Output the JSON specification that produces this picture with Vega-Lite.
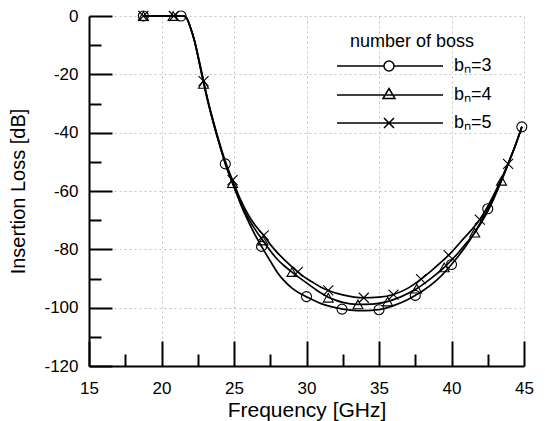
{
  "$schema": "https://vega.github.io/schema/vega-lite/v6.json",
  "width": 435,
  "height": 350,
  "autosize": {"type": "none"},
  "padding": {"left": 89, "top": 16, "right": 21, "bottom": 55},
  "background": "white",
  "config": {
    "view": {"stroke": null},
    "font": "Liberation Sans",
    "axis": {
      "domainColor": "black",
      "domainWidth": 2,
      "tickColor": "black",
      "tickWidth": 2,
      "labelColor": "black",
      "titleColor": "black",
      "labelFont": "Liberation Sans",
      "titleFont": "Liberation Sans",
      "titleFontWeight": "normal",
      "gridColor": "#aaaaaa",
      "gridDash": [2, 3],
      "gridWidth": 1
    }
  },
  "datasets": {
    "curves": [
      {"series": "bₙ=3", "f": 18.75, "il": 0},
      {"series": "bₙ=3", "f": 20.5, "il": 0},
      {"series": "bₙ=3", "f": 21.35, "il": 0},
      {"series": "bₙ=3", "f": 21.7, "il": -0.5},
      {"series": "bₙ=3", "f": 22.0, "il": -4},
      {"series": "bₙ=3", "f": 22.3, "il": -9},
      {"series": "bₙ=3", "f": 22.6, "il": -15.5},
      {"series": "bₙ=3", "f": 22.9, "il": -22.5},
      {"series": "bₙ=3", "f": 23.2, "il": -29},
      {"series": "bₙ=3", "f": 23.6, "il": -37},
      {"series": "bₙ=3", "f": 24.0, "il": -44},
      {"series": "bₙ=3", "f": 24.4, "il": -50.7},
      {"series": "bₙ=3", "f": 25.0, "il": -58.5},
      {"series": "bₙ=3", "f": 25.5, "il": -65},
      {"series": "bₙ=3", "f": 26.0, "il": -70.5},
      {"series": "bₙ=3", "f": 26.5, "il": -75.5},
      {"series": "bₙ=3", "f": 26.9, "il": -79},
      {"series": "bₙ=3", "f": 27.5, "il": -84},
      {"series": "bₙ=3", "f": 28.0, "il": -88},
      {"series": "bₙ=3", "f": 28.5, "il": -91},
      {"series": "bₙ=3", "f": 29.0, "il": -93.3},
      {"series": "bₙ=3", "f": 29.5, "il": -95},
      {"series": "bₙ=3", "f": 30.0, "il": -96.3},
      {"series": "bₙ=3", "f": 31.0, "il": -98.6},
      {"series": "bₙ=3", "f": 32.0, "il": -100},
      {"series": "bₙ=3", "f": 32.5, "il": -100.5},
      {"series": "bₙ=3", "f": 33.5, "il": -101},
      {"series": "bₙ=3", "f": 34.5, "il": -100.9},
      {"series": "bₙ=3", "f": 35.0, "il": -100.7},
      {"series": "bₙ=3", "f": 36.0, "il": -99.3},
      {"series": "bₙ=3", "f": 37.0, "il": -97.2},
      {"series": "bₙ=3", "f": 37.5, "il": -95.8},
      {"series": "bₙ=3", "f": 38.0, "il": -94.3},
      {"series": "bₙ=3", "f": 39.0, "il": -90.5},
      {"series": "bₙ=3", "f": 40.0, "il": -85.2},
      {"series": "bₙ=3", "f": 41.0, "il": -78.8},
      {"series": "bₙ=3", "f": 41.5, "il": -75},
      {"series": "bₙ=3", "f": 42.0, "il": -70.8},
      {"series": "bₙ=3", "f": 42.5, "il": -66.1},
      {"series": "bₙ=3", "f": 43.0, "il": -61},
      {"series": "bₙ=3", "f": 43.5, "il": -55.5},
      {"series": "bₙ=3", "f": 44.0, "il": -49.5},
      {"series": "bₙ=3", "f": 44.5, "il": -43},
      {"series": "bₙ=3", "f": 44.85, "il": -38},

      {"series": "bₙ=4", "f": 18.75, "il": 0},
      {"series": "bₙ=4", "f": 20.8, "il": 0},
      {"series": "bₙ=4", "f": 21.6, "il": 0},
      {"series": "bₙ=4", "f": 22.0, "il": -4},
      {"series": "bₙ=4", "f": 22.3, "il": -9},
      {"series": "bₙ=4", "f": 22.6, "il": -16},
      {"series": "bₙ=4", "f": 22.9, "il": -23},
      {"series": "bₙ=4", "f": 23.2, "il": -29.5},
      {"series": "bₙ=4", "f": 23.6, "il": -37},
      {"series": "bₙ=4", "f": 24.0, "il": -44},
      {"series": "bₙ=4", "f": 24.4, "il": -50.5},
      {"series": "bₙ=4", "f": 24.9, "il": -57.3},
      {"series": "bₙ=4", "f": 25.5, "il": -64.5},
      {"series": "bₙ=4", "f": 26.0, "il": -69.5},
      {"series": "bₙ=4", "f": 26.5, "il": -73.5},
      {"series": "bₙ=4", "f": 27.0, "il": -77},
      {"series": "bₙ=4", "f": 27.5, "il": -80.5},
      {"series": "bₙ=4", "f": 28.0, "il": -83.5},
      {"series": "bₙ=4", "f": 28.5, "il": -85.8},
      {"series": "bₙ=4", "f": 29.0, "il": -87.8},
      {"series": "bₙ=4", "f": 29.5, "il": -89.7},
      {"series": "bₙ=4", "f": 30.0, "il": -91.5},
      {"series": "bₙ=4", "f": 30.5, "il": -93.3},
      {"series": "bₙ=4", "f": 31.0, "il": -95},
      {"series": "bₙ=4", "f": 31.5, "il": -96.4},
      {"series": "bₙ=4", "f": 32.0, "il": -97.4},
      {"series": "bₙ=4", "f": 32.5, "il": -98.2},
      {"series": "bₙ=4", "f": 33.5, "il": -98.9},
      {"series": "bₙ=4", "f": 34.5, "il": -98.8},
      {"series": "bₙ=4", "f": 35.5, "il": -98},
      {"series": "bₙ=4", "f": 36.5, "il": -96.3},
      {"series": "bₙ=4", "f": 37.5, "il": -93.8},
      {"series": "bₙ=4", "f": 38.5, "il": -90.3},
      {"series": "bₙ=4", "f": 39.5, "il": -86.2},
      {"series": "bₙ=4", "f": 40.5, "il": -81},
      {"series": "bₙ=4", "f": 41.0, "il": -78},
      {"series": "bₙ=4", "f": 41.6, "il": -74.3},
      {"series": "bₙ=4", "f": 42.5, "il": -67},
      {"series": "bₙ=4", "f": 43.45, "il": -56.5},
      {"series": "bₙ=4", "f": 44.0, "il": -49.5},
      {"series": "bₙ=4", "f": 44.5, "il": -43},
      {"series": "bₙ=4", "f": 44.85, "il": -38},

      {"series": "bₙ=5", "f": 18.75, "il": 0},
      {"series": "bₙ=5", "f": 20.85, "il": 0},
      {"series": "bₙ=5", "f": 21.6, "il": 0},
      {"series": "bₙ=5", "f": 22.0, "il": -4},
      {"series": "bₙ=5", "f": 22.3, "il": -9},
      {"series": "bₙ=5", "f": 22.6, "il": -15.5},
      {"series": "bₙ=5", "f": 22.9, "il": -22.3},
      {"series": "bₙ=5", "f": 23.2, "il": -29},
      {"series": "bₙ=5", "f": 23.6, "il": -36.5},
      {"series": "bₙ=5", "f": 24.0, "il": -43.5},
      {"series": "bₙ=5", "f": 24.4, "il": -49.8},
      {"series": "bₙ=5", "f": 24.9, "il": -56.3},
      {"series": "bₙ=5", "f": 25.5, "il": -63.5},
      {"series": "bₙ=5", "f": 26.0, "il": -68.3},
      {"series": "bₙ=5", "f": 26.5, "il": -72},
      {"series": "bₙ=5", "f": 27.05, "il": -75.2},
      {"series": "bₙ=5", "f": 27.5, "il": -78.3},
      {"series": "bₙ=5", "f": 28.0, "il": -81.2},
      {"series": "bₙ=5", "f": 28.5, "il": -83.7},
      {"series": "bₙ=5", "f": 29.0, "il": -86},
      {"series": "bₙ=5", "f": 29.4, "il": -87.7},
      {"series": "bₙ=5", "f": 30.0, "il": -90},
      {"series": "bₙ=5", "f": 30.5, "il": -91.5},
      {"series": "bₙ=5", "f": 31.0, "il": -93},
      {"series": "bₙ=5", "f": 31.5, "il": -94.1},
      {"series": "bₙ=5", "f": 32.5, "il": -95.6},
      {"series": "bₙ=5", "f": 33.95, "il": -96.6},
      {"series": "bₙ=5", "f": 35.0, "il": -96.4},
      {"series": "bₙ=5", "f": 36.0, "il": -95.5},
      {"series": "bₙ=5", "f": 37.0, "il": -93.3},
      {"series": "bₙ=5", "f": 37.9, "il": -90.2},
      {"series": "bₙ=5", "f": 38.8, "il": -86.5},
      {"series": "bₙ=5", "f": 39.8, "il": -82},
      {"series": "bₙ=5", "f": 40.8, "il": -76.5},
      {"series": "bₙ=5", "f": 41.95, "il": -69.8},
      {"series": "bₙ=5", "f": 42.9, "il": -61.5},
      {"series": "bₙ=5", "f": 43.9, "il": -50.7},
      {"series": "bₙ=5", "f": 44.4, "il": -44.5},
      {"series": "bₙ=5", "f": 44.85, "il": -38}
    ],
    "markers": [
      {"series": "bₙ=3", "f": 18.75, "il": 0},
      {"series": "bₙ=3", "f": 21.35, "il": 0},
      {"series": "bₙ=3", "f": 24.4, "il": -50.7},
      {"series": "bₙ=3", "f": 26.9, "il": -79},
      {"series": "bₙ=3", "f": 30.0, "il": -96.2},
      {"series": "bₙ=3", "f": 32.45, "il": -100.5},
      {"series": "bₙ=3", "f": 35.0, "il": -100.7},
      {"series": "bₙ=3", "f": 37.5, "il": -95.8},
      {"series": "bₙ=3", "f": 40.0, "il": -85.2},
      {"series": "bₙ=3", "f": 42.5, "il": -66.1},
      {"series": "bₙ=3", "f": 44.85, "il": -38},
      {"series": "bₙ=4", "f": 18.75, "il": 0},
      {"series": "bₙ=4", "f": 20.8, "il": 0},
      {"series": "bₙ=4", "f": 22.9, "il": -23.3},
      {"series": "bₙ=4", "f": 24.9, "il": -57.3},
      {"series": "bₙ=4", "f": 27.0, "il": -77},
      {"series": "bₙ=4", "f": 29.0, "il": -87.8},
      {"series": "bₙ=4", "f": 31.5, "il": -96.6},
      {"series": "bₙ=4", "f": 33.55, "il": -98.9},
      {"series": "bₙ=4", "f": 35.6, "il": -97.9},
      {"series": "bₙ=4", "f": 37.6, "il": -93.5},
      {"series": "bₙ=4", "f": 39.5, "il": -86.2},
      {"series": "bₙ=4", "f": 41.6, "il": -74.3},
      {"series": "bₙ=4", "f": 43.45, "il": -56.5},
      {"series": "bₙ=5", "f": 18.75, "il": 0},
      {"series": "bₙ=5", "f": 20.85, "il": 0},
      {"series": "bₙ=5", "f": 22.9, "il": -22.3},
      {"series": "bₙ=5", "f": 24.9, "il": -56.3},
      {"series": "bₙ=5", "f": 27.05, "il": -75.2},
      {"series": "bₙ=5", "f": 29.4, "il": -87.7},
      {"series": "bₙ=5", "f": 31.5, "il": -94.1},
      {"series": "bₙ=5", "f": 33.95, "il": -96.6},
      {"series": "bₙ=5", "f": 36.0, "il": -95.5},
      {"series": "bₙ=5", "f": 37.9, "il": -90.2},
      {"series": "bₙ=5", "f": 39.8, "il": -82},
      {"series": "bₙ=5", "f": 41.95, "il": -69.8},
      {"series": "bₙ=5", "f": 43.9, "il": -50.7}
    ]
  },
  "encoding": {
    "x": {
      "field": "f",
      "type": "quantitative",
      "scale": {"domain": [15, 45], "nice": false, "zero": false},
      "axis": {
        "title": "Frequency [GHz]",
        "titleFontSize": 21,
        "titlePadding": 3,
        "values": [15, 17.5, 20, 22.5, 25, 27.5, 30, 32.5, 35, 37.5, 40, 42.5, 45],
        "labelExpr": "datum.value % 5 === 0 ? datum.label : ''",
        "labelFontSize": 17,
        "labelPadding": 39,
        "labelFlush": false,
        "tickSize": {"condition": {"test": "datum.value % 5 === 0", "value": -25}, "value": -12},
        "gridOpacity": {"condition": {"test": "datum.value % 5 === 0 && datum.value > 15", "value": 0.7}, "value": 0}
      }
    },
    "y": {
      "field": "il",
      "type": "quantitative",
      "scale": {"domain": [-120, 0], "nice": false},
      "axis": {
        "title": "Insertion Loss [dB]",
        "titleFontSize": 20,
        "titlePadding": 15,
        "values": [-120, -110, -100, -90, -80, -70, -60, -50, -40, -30, -20, -10, 0],
        "labelExpr": "datum.value % 20 === 0 ? '' + datum.value : ''",
        "labelFontSize": 17,
        "labelPadding": 34,
        "labelFlush": false,
        "tickSize": {"condition": {"test": "datum.value % 20 === 0", "value": -23}, "value": -12},
        "gridOpacity": {"condition": {"test": "datum.value % 20 === 0 && datum.value > -120", "value": 0.7}, "value": 0}
      }
    }
  },
  "layer": [
    {
      "data": {"name": "curves"},
      "mark": {"type": "line", "color": "black", "strokeWidth": 1.7, "interpolate": "monotone"},
      "encoding": {"detail": {"field": "series"}}
    },
    {
      "data": {"name": "markers"},
      "mark": {"type": "point", "filled": false, "color": "black", "strokeWidth": 1.1, "size": 100, "opacity": 1},
      "encoding": {
        "shape": {
          "field": "series",
          "scale": {"domain": ["bₙ=3", "bₙ=4", "bₙ=5"], "range": ["circle", "triangle-up", "M-1,-1L1,1M-1,1L1,-1"]},
          "legend": null
        }
      }
    },
    {
      "data": {"name": "markers"},
      "mark": {"type": "point", "filled": false, "color": "black", "strokeWidth": 1.5, "opacity": 0},
      "encoding": {
        "shape": {
          "field": "series",
          "scale": {"domain": ["bₙ=3", "bₙ=4", "bₙ=5"], "range": [
            "M-1,0L8.4,0M10.4,0L20.2,0M8.4,0A1,1 0 1,1 10.4,0A1,1 0 1,1 8.4,0",
            "M-1,0L20.2,0M9.4,-1.3L10.6,0.7L8.2,0.7Z",
            "M-1,0L20.2,0M8.4,-1L10.4,1M8.4,1L10.4,-1"
          ]},
          "legend": {
            "orient": "none",
            "legendX": 244,
            "legendY": 17,
            "title": "number of boss",
            "titleAnchor": "middle",
            "titleFont": "Liberation Sans",
            "titleFontSize": 18,
            "titleFontWeight": "normal",
            "titleColor": "black",
            "titlePadding": 6,
            "labelFont": "Liberation Sans",
            "labelFontSize": 18,
            "labelColor": "black",
            "labelOffset": 103,
            "symbolSize": 100,
            "symbolStrokeColor": "black",
            "symbolStrokeWidth": 1.5,
            "symbolFillColor": "transparent",
            "symbolOpacity": 1,
            "rowPadding": 10,
            "padding": 0
          }
        }
      }
    }
  ],
  "resolve": {"scale": {"shape": "independent"}, "legend": {"shape": "independent"}}
}
